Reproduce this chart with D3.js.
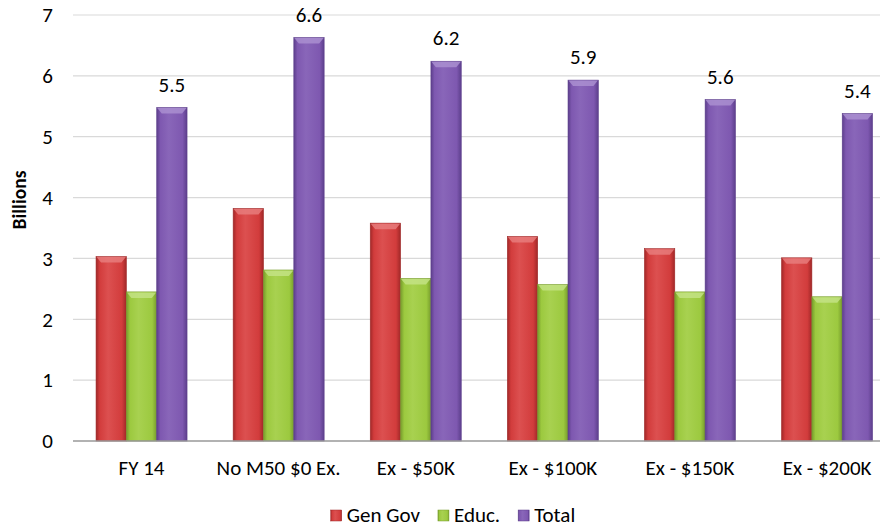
<!DOCTYPE html>
<html>
<head>
<meta charset="utf-8">
<script src="https://cdn.jsdelivr.net/npm/d3@7"></script>
<style>
  body { margin: 0; background: #fff; }
  text { font-family: Carlito, Lato, "Open Sans", sans-serif; fill: #000; }
</style>
</head>
<body>
<div id="chart"></div>
<script>
// chart values
const categories = ["FY 14", "No M50 $0 Ex.", "Ex - $50K", "Ex - $100K", "Ex - $150K", "Ex - $200K"];
const seriesNames = ["Gen Gov", "Educ.", "Total"];
const genGov = [3.03, 3.82, 3.58, 3.36, 3.16, 3.01];
const educ = [2.45, 2.81, 2.67, 2.57, 2.45, 2.37];
const total = [5.48, 6.63, 6.24, 5.93, 5.61, 5.38];
const yTicks = [0, 1, 2, 3, 4, 5, 6, 7];

const width = 883, height = 527;
const fontSize = "21px";

// base / dark / light shades per series
const palette = [
    {base: "#d23c3c", dark: "#a02828", light: "#dc5050", top: "#e98080"},
    {base: "#9cc93f", dark: "#779c2c", light: "#a8d150", top: "#c6e388"},
    {base: "#7e58b0", dark: "#5d3f8c", light: "#8966b9", top: "#ad92d2"}
];

const svg = d3.select("#chart")
    .append("svg")
    .attr("width", width)
    .attr("height", height);

const defs = svg.append("defs");
palette.forEach((c, i) => {
    const g = defs.append("linearGradient")
        .attr("id", "grad" + i)
        .attr("x1", "0%").attr("x2", "100%")
        .attr("y1", "0%").attr("y2", "0%");
    g.append("stop").attr("offset", "0%").attr("stop-color", c.dark);
    g.append("stop").attr("offset", "12%").attr("stop-color", c.base);
    g.append("stop").attr("offset", "40%").attr("stop-color", c.light);
    g.append("stop").attr("offset", "85%").attr("stop-color", c.base);
    g.append("stop").attr("offset", "100%").attr("stop-color", c.dark);
});

const plotLeft = 73, plotRight = 880;
const step = 137.1;

const y = d3.scaleLinear()
    .domain([0, 7])
    .range([441, 15]);

const x0 = d3.scaleBand()
    .domain(categories)
    .range([plotLeft, plotLeft + step * categories.length])
    .paddingInner(0)
    .paddingOuter(0);

const groupW = 91;
const x1 = d3.scaleBand()
    .domain(seriesNames)
    .range([(step - groupW) / 2, (step + groupW) / 2])
    .padding(0);

// gridlines
svg.append("g")
    .selectAll("line")
    .data(yTicks.filter(d => d > 0))
    .join("line")
    .attr("x1", plotLeft)
    .attr("x2", plotRight)
    .attr("y1", d => y(d))
    .attr("y2", d => y(d))
    .attr("stroke", "#d9d9d9")
    .attr("stroke-width", 1.2);

// y axis labels
const yAxis = d3.axisLeft(y)
    .tickValues(yTicks)
    .tickFormat(d3.format("d"))
    .tickSize(0)
    .tickPadding(0);

svg.append("g")
    .attr("transform", `translate(53,0)`)
    .call(yAxis)
    .call(g => g.select(".domain").remove())
    .selectAll("text")
    .style("font-size", fontSize)
    .attr("fill", "#000");

svg.append("text")
    .attr("transform", "translate(26,200) rotate(-90)")
    .attr("text-anchor", "middle")
    .style("font-size", "19.5px")
    .style("font-weight", "bold")
    .text("Billions");

// bars
const rows = categories.map((c, i) => ({
    cat: c,
    vals: [genGov[i], educ[i], total[i]]
}));

const groups = svg.append("g")
    .selectAll("g")
    .data(rows)
    .join("g")
    .attr("transform", d => `translate(${x0(d.cat)},0)`);

const bars = groups.selectAll("g")
    .data(d => d.vals.map((v, k) => ({name: seriesNames[k], k: k, v: v})))
    .join("g");

bars.append("rect")
    .attr("x", d => x1(d.name))
    .attr("y", d => y(d.v))
    .attr("width", x1.bandwidth())
    .attr("height", d => y(0) - y(d.v))
    .attr("fill", d => "url(#grad" + d.k + ")")
    .attr("stroke", d => palette[d.k].dark)
    .attr("stroke-width", 0.6);

// bevel highlight on the top of each bar
bars.append("polygon")
    .attr("points", d => {
        const xl = x1(d.name), xr = xl + x1.bandwidth(), yt = y(d.v);
        return [[xl + 0.5, yt + 0.5], [xr - 0.5, yt + 0.5], [xr - 5, yt + 6], [xl + 5, yt + 6]]
            .map(p => p.join(",")).join(" ");
    })
    .attr("fill", d => palette[d.k].top)
    .attr("opacity", 0.8);

// axis baseline
svg.append("line")
    .attr("x1", plotLeft)
    .attr("x2", plotRight)
    .attr("y1", y(0))
    .attr("y2", y(0))
    .attr("stroke", "#999")
    .attr("stroke-width", 1.6);

// value labels over the Total bars
groups.append("text")
    .attr("x", x1("Total") + x1.bandwidth() / 2)
    .attr("y", d => y(d.vals[2]) - 16)
    .attr("text-anchor", "middle")
    .style("font-size", fontSize)
    .text(d => d3.format(".1f")(d.vals[2]));

// category labels
const xAxis = d3.axisBottom(x0).tickSize(0).tickPadding(0);
svg.append("g")
    .attr("transform", `translate(0,460)`)
    .call(xAxis)
    .call(g => g.select(".domain").remove())
    .selectAll("text")
    .attr("dy", "0.71em")
    .style("font-size", fontSize)
    .attr("fill", "#000");

// legend
const legend = svg.append("g");
const items = legend.selectAll("g")
    .data(seriesNames)
    .join("g");

items.append("rect")
    .attr("width", 11)
    .attr("height", 11)
    .attr("y", 510)
    .attr("fill", (d, i) => "url(#grad" + i + ")")
    .attr("stroke", (d, i) => palette[i].dark)
    .attr("stroke-width", 0.5);

items.append("text")
    .attr("x", 16)
    .attr("y", 522)
    .style("font-size", fontSize)
    .text(d => d);

let xpos = 0;
const offsets = [];
items.each(function() {
    offsets.push(xpos);
    const w = d3.select(this).select("text").node().getComputedTextLength();
    xpos += 16 + w + 18;
});
const totalW = xpos - 18;
const startX = 453 - totalW / 2;
items.attr("transform", (d, i) => `translate(${startX + offsets[i]},0)`);
</script>
</body>
</html>
